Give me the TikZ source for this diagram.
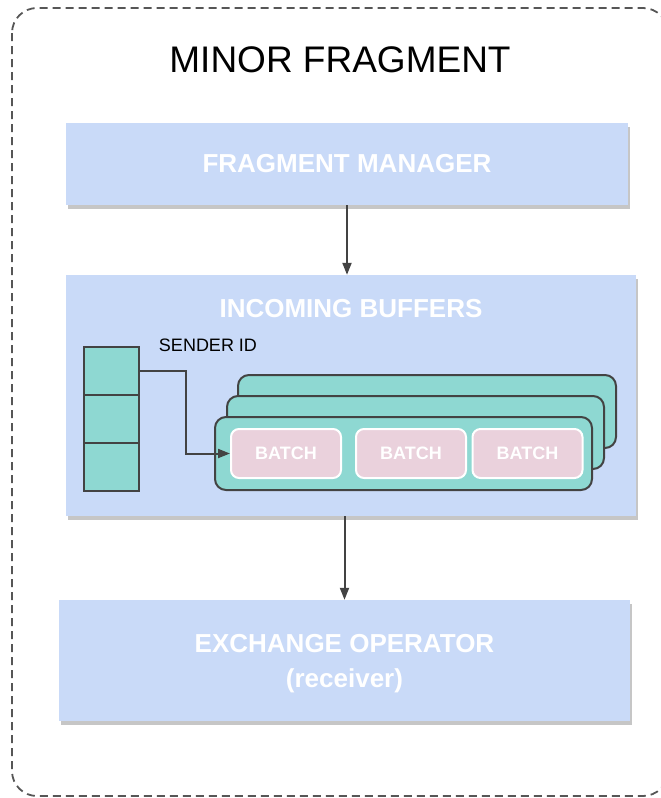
\documentclass[tikz,border=0pt]{standalone}
\usepackage{fontspec}
\setmainfont{Liberation Sans}
\usetikzlibrary{shadows,arrows.meta}

\definecolor{boxblue}{HTML}{C9DAF8}
\definecolor{bufteal}{HTML}{8ED8D2}
\definecolor{batchpink}{HTML}{EAD1DC}
\definecolor{edgegray}{HTML}{434343}

\begin{document}
\begin{tikzpicture}[x=1pt, y=-1pt,
  block/.style={fill=boxblue, inner sep=0pt, align=center, text=white,
    font=\fontsize{26}{35}\selectfont\bfseries,
    drop shadow={shadow xshift=1.5pt, shadow yshift=-4pt, opacity=0.45}},
  cell/.style={draw=edgegray, line width=2pt, fill=bufteal, inner sep=0pt,
    minimum width=55pt, minimum height=48pt},
  layer/.style={draw=edgegray, line width=2pt, fill=bufteal, rounded corners=11pt},
  batch/.style={draw=white, line width=2pt, fill=batchpink, rounded corners=8pt,
    inner sep=0pt, minimum width=110pt, minimum height=49pt, text=white,
    font=\fontsize{18}{20}\selectfont\bfseries},
  flow/.style={draw=edgegray, line width=2pt, -{Triangle[length=12pt, width=9pt]}}]
\useasboundingbox (0,0) rectangle (661,798);

% Outer frame
\draw[draw=edgegray!90, line width=1.8pt, dash pattern=on 8pt off 5pt, rounded corners=25pt]
  (12,8) rectangle (668,796);
\node (title) at (340,60) {\fontsize{37}{40}\selectfont MINOR FRAGMENT};

% Main blocks
\node[block, minimum width=562pt, minimum height=82pt] (fm) at (347,164) {FRAGMENT MANAGER};
\node[block, minimum width=570pt, minimum height=241pt] (ib) at (351,395.5) {};
\node[text=white, font=\fontsize{26}{30}\selectfont\bfseries] (ibtitle) at (351,309) {INCOMING BUFFERS};
\node[block, minimum width=571pt, minimum height=121pt] (eo) at (344.5,660.5) {};
\node[text=white, font=\fontsize{26}{35}\selectfont\bfseries, align=center] (eotext) at (344.5,664)
  {EXCHANGE OPERATOR\\(receiver)};

% Sender id column
\node[font=\fontsize{18}{20}\selectfont] (sender) at (208,345) {SENDER ID};
\node[cell] (c1) at (111.5,371) {};
\node[cell] (c2) at (111.5,419) {};
\node[cell] (c3) at (111.5,467) {};

% Stacked buffer queues
\draw[layer] (238,375) rectangle (616,448);
\draw[layer] (227,396) rectangle (604,469);
\draw[layer] (215,417) rectangle (592,490);

% Batches
\node[batch] (b1) at (286,453.5) {BATCH};
\node[batch] (b2) at (411,453.5) {BATCH};
\node[batch] (b3) at (527.5,453.5) {BATCH};

% Connectors
\draw[flow] (c1.east) -- ++(46,0) |- (b1.west);
\draw[flow] (fm.south) -- (fm.south |- ib.north);
\draw[flow] (eo.north |- ib.south) -- (eo.north);

\end{tikzpicture}
\end{document}
